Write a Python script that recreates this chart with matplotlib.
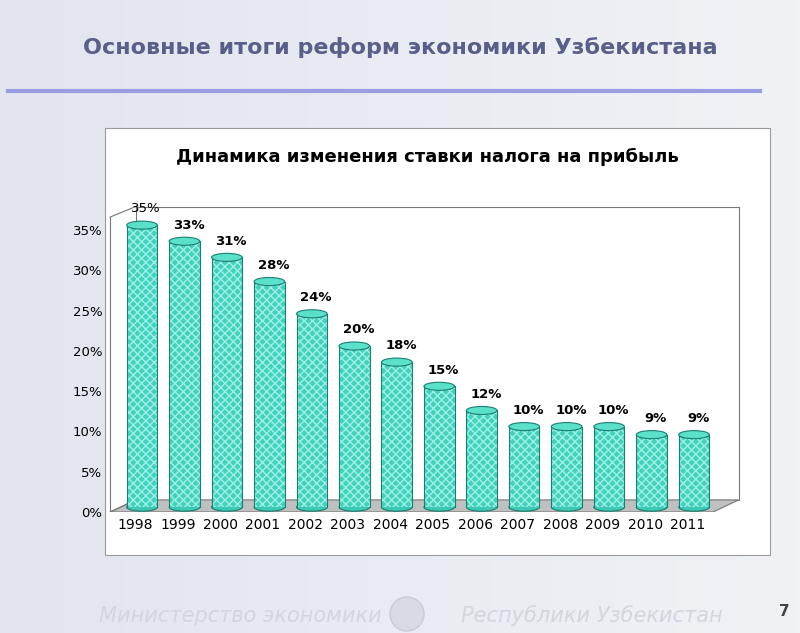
import numpy as np
import matplotlib.pyplot as plt
from matplotlib.patches import Rectangle, Ellipse, Polygon

years = ["1998", "1999", "2000", "2001", "2002", "2003", "2004",
         "2005", "2006", "2007", "2008", "2009", "2010", "2011"]
rates = [35, 33, 31, 28, 24, 20, 18, 15, 12, 10, 10, 10, 9, 9]
labels = ["35%", "33%", "31%", "28%", "24%", "20%", "18%",
          "15%", "12%", "10%", "10%", "10%", "9%", "9%"]
yticks = [0, 5, 10, 15, 20, 25, 30, 35]

W, H = 800, 633
fig = plt.figure(figsize=(W / 100, H / 100), dpi=100)

# background gradient
bg = fig.add_axes([0, 0, 1, 1])
grad = np.linspace(0, 1, 256).reshape(1, -1)
bg.imshow(grad, aspect="auto", extent=[0, 1, 0, 1],
          cmap=plt.matplotlib.colors.LinearSegmentedColormap.from_list("g", ["#e2e5ee", "#f0f2f6"]))
bg.set_xlim(0, 1)
bg.set_ylim(0, 1)
bg.axis("off")

fig.text(0.5, 1 - 47 / H, "Основные итоги реформ экономики Узбекистана",
         ha="center", va="center", fontsize=16, fontweight="bold", color="#5a5f8a")
bg.plot([0.01, 0.95], [1 - 91 / H, 1 - 91 / H], color="#9a9ee0", lw=3)
bg.add_patch(Rectangle((105 / W, 1 - 555 / H), 665 / W, 427 / H,
                       facecolor="white", edgecolor="#999999", lw=0.8))
fig.text(427 / W, 1 - 157 / H, "Динамика изменения ставки налога на прибыль",
         ha="center", va="center", fontsize=13, fontweight="semibold", color="black")
fig.text(0.30, 1 - 616 / H, "Министерство экономики", ha="center", va="center",
         fontsize=15, style="italic", color="#d2d5de")
fig.text(0.74, 1 - 616 / H, "Республики Узбекистан", ha="center", va="center",
         fontsize=15, style="italic", color="#d2d5de")
bg.add_patch(Ellipse((407 / W, 1 - 614 / H), 34 / W, 34 / H,
                     facecolor="#d8dbe3", edgecolor="#c8cbd3"))
fig.text(790 / W, 1 - 612 / H, "7", ha="right", va="center",
         fontsize=11, fontweight="bold", color="#444444")

# chart axes
x0, x1, y0, y1 = 108, 745, 512, 205
ax = fig.add_axes([x0 / W, 1 - y0 / H, (x1 - x0) / W, (y0 - y1) / H])
ymax = 38.1
ax.set_xlim(-0.65, len(years) - 0.35 + 0.7)
ax.set_ylim(0, ymax)
ax.patch.set_alpha(0)
for s in ax.spines.values():
    s.set_visible(False)
ax.set_yticks(yticks)
ax.set_yticklabels([f"{t}%" for t in yticks], fontsize=9.5)
ax.set_xticks(range(len(years)))
ax.set_xticklabels(years, fontsize=10)
ax.tick_params(length=0, pad=4)

n = len(years)
dx, dy = 0.6, 1.5
# back wall and floor
ax.add_patch(Polygon([(-0.6 + dx, dy), (-0.6 + dx, ymax - 0.2), (n - 0.4 + dx, ymax - 0.2), (n - 0.4 + dx, dy)],
                     closed=True, facecolor="white", edgecolor="#777777", lw=0.8, zorder=0))
ax.add_patch(Polygon([(-0.6, 0), (n - 0.4, 0), (n - 0.4 + dx, dy), (-0.6 + dx, dy)],
                     closed=True, facecolor="#c0c0c0", edgecolor="#777777", lw=0.8, zorder=0.5))
ax.plot([-0.6, -0.6 + dx], [0, dy], color="#777777", lw=0.8)
ax.plot([-0.6, -0.6], [0, ymax - 1.5], color="#777777", lw=0.8)
ax.plot([-0.6, -0.6 + dx], [ymax - 1.5, ymax - 0.2], color="#777777", lw=0.8)

bw = 0.72
eh = 1.0
for i, (v, lab) in enumerate(zip(rates, labels)):
    cx = i + 0.15
    base = 0.6
    ax.add_patch(Ellipse((cx, base), bw, eh, facecolor="#3cc8b4", edgecolor="#1a7f70", lw=0.8, zorder=2))
    ax.add_patch(Rectangle((cx - bw / 2, base), bw, v, facecolor="#40d2bd",
                           edgecolor="#9ff0e4", hatch="xxxx", lw=0, zorder=3))
    ax.plot([cx - bw / 2, cx - bw / 2], [base, base + v], color="#1a7f70", lw=0.8, zorder=4)
    ax.plot([cx + bw / 2, cx + bw / 2], [base, base + v], color="#1a7f70", lw=0.8, zorder=4)
    ax.add_patch(Ellipse((cx, base + v), bw, eh, facecolor="#5be0cc",
                         edgecolor="#1a7f70", lw=0.8, zorder=5))
    ax.text(cx + 0.1, base + v + 1.2, lab, ha="center", va="bottom", fontsize=9.5,
            fontweight="bold" if i > 0 else "normal", zorder=6)

fig.savefig("out.png", dpi=100)
